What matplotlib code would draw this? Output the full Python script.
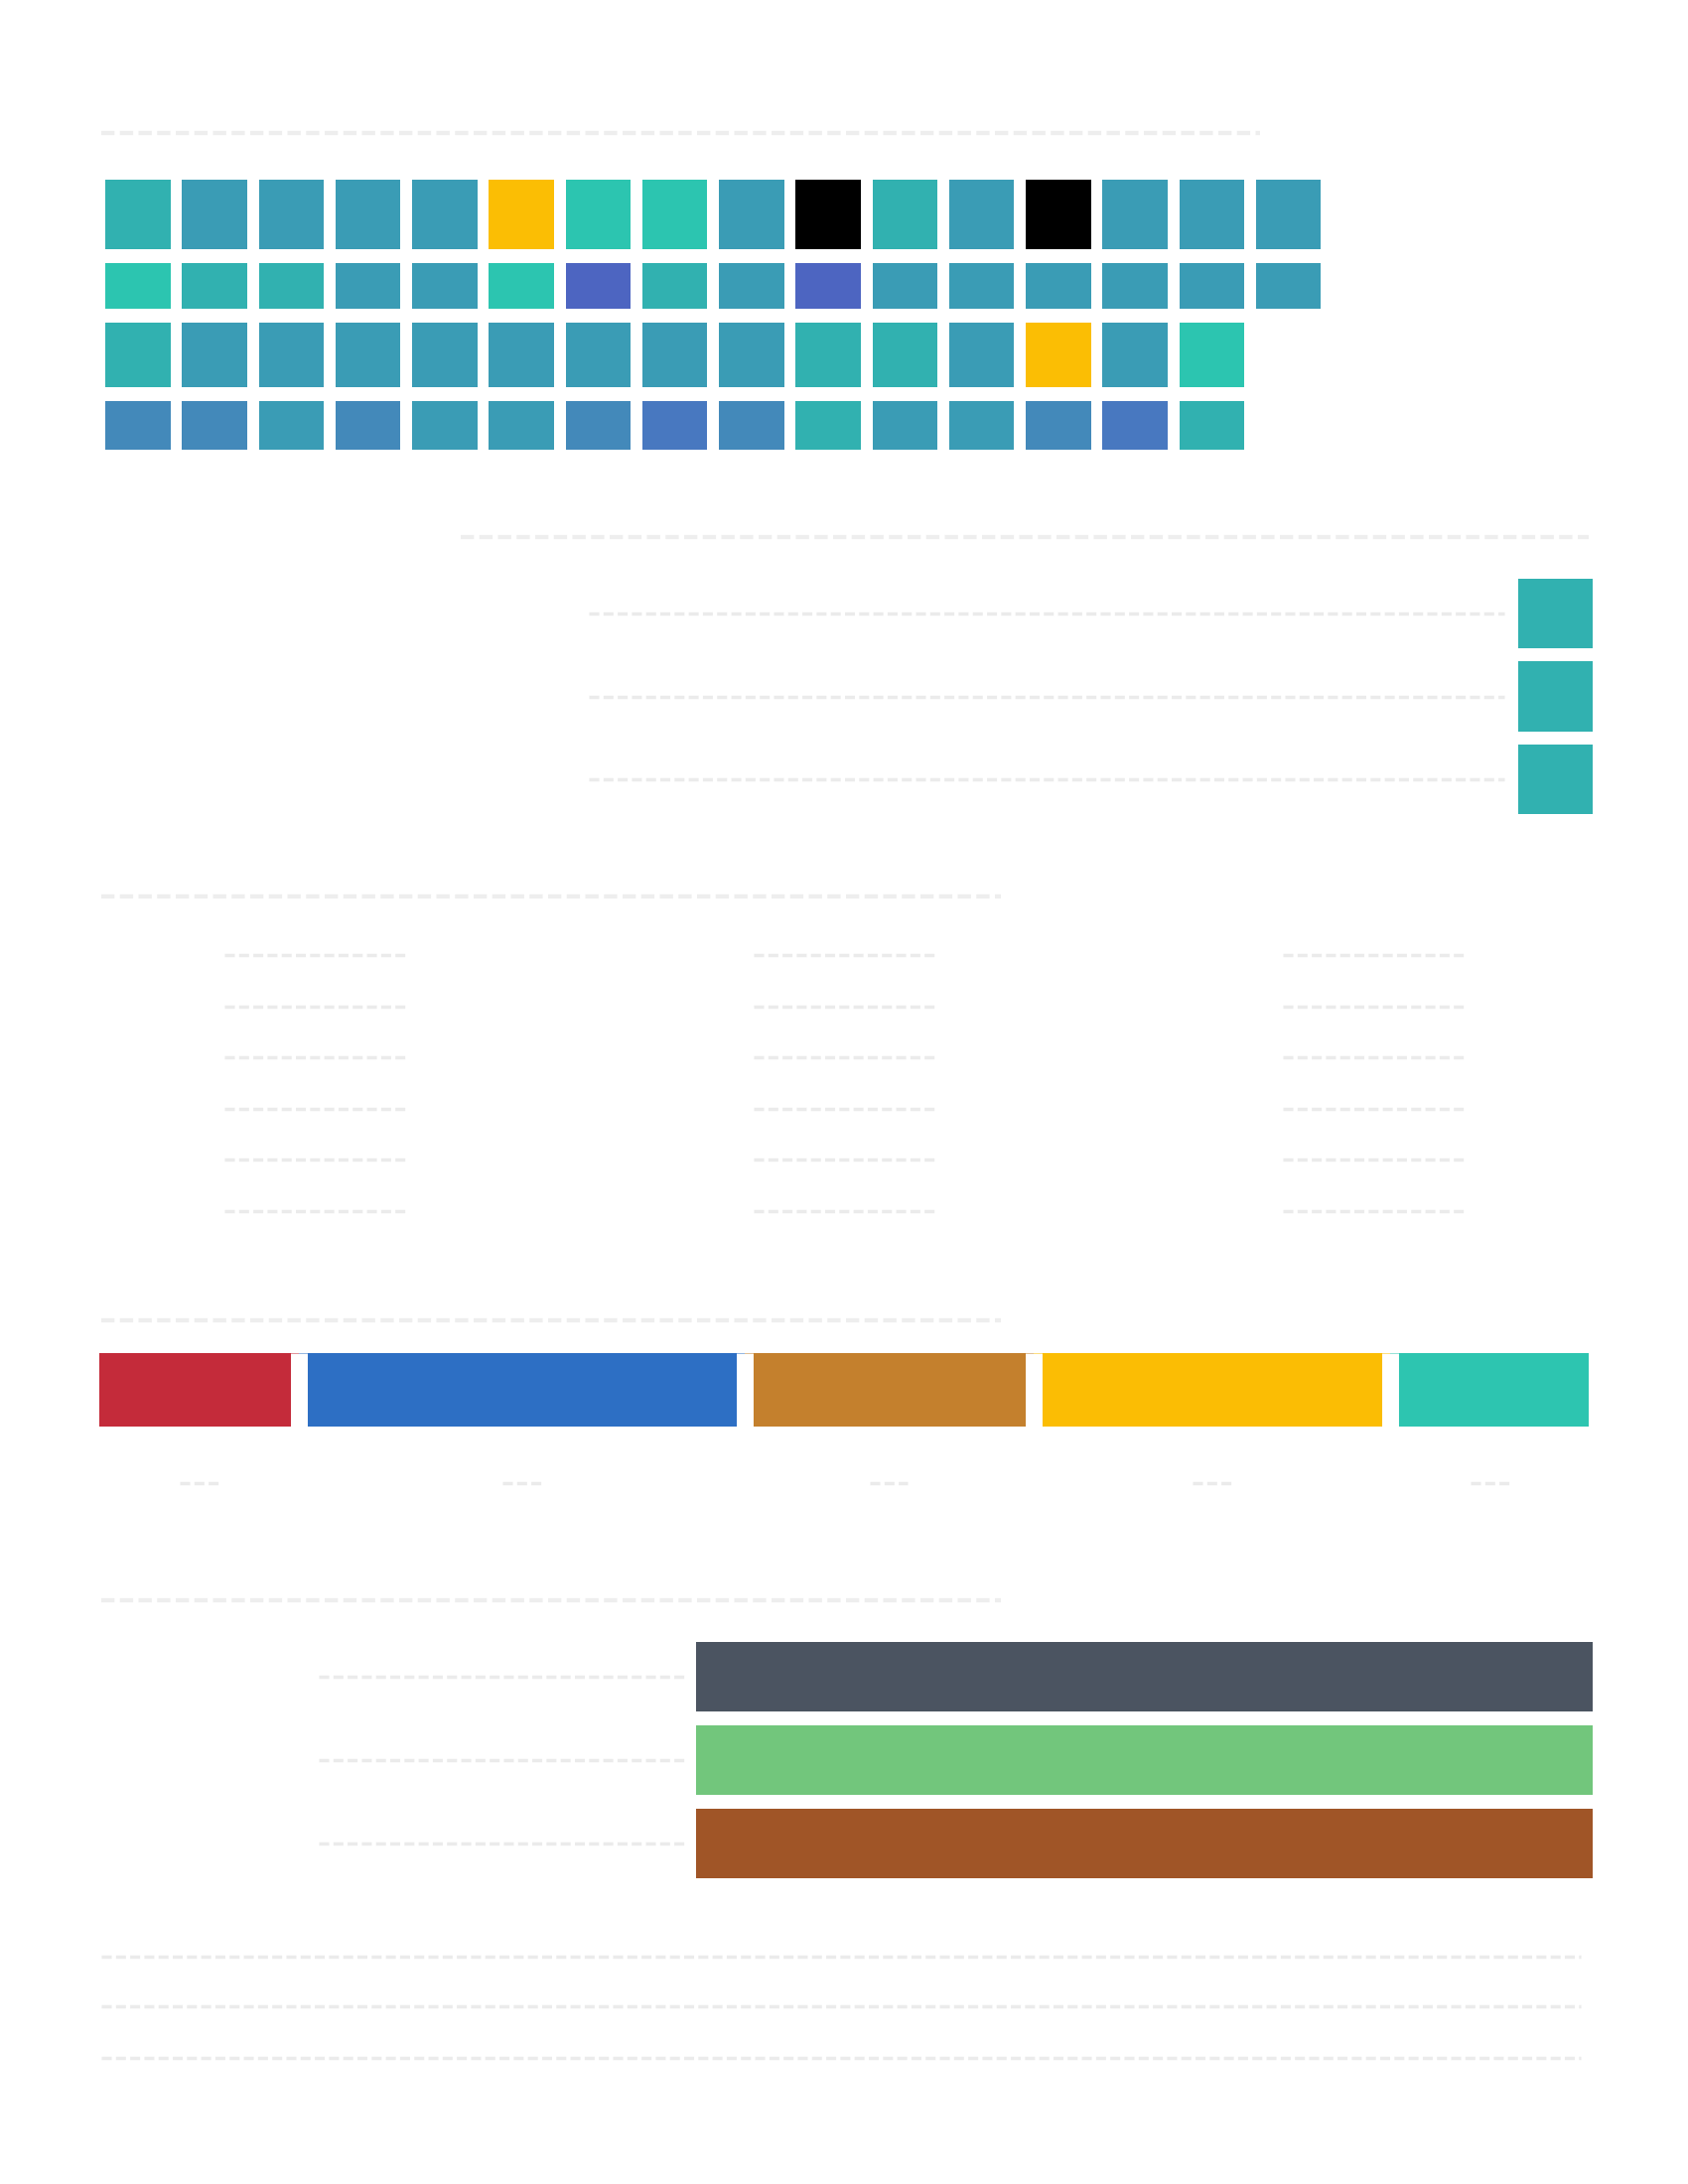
import numpy as np
import matplotlib.pyplot as plt
from matplotlib.transforms import blended_transform_factory

plt.rcParams['lines.scale_dashes'] = False

W, H = 1700, 2200

# ---------------- DATA ---------------- #

# waffle cells, one code per cell
waffle_rows = [
    "T B B B B Y M M B K T B K B B B".split(),
    "M T T B B M I T B I B B B B B B".split(),
    "T B B B B B B B B T T B Y B M".split(),
    "S S B S B B S L S T B B S L T".split(),
]
waffle_palette = {
    "T": "#31b1b0",
    "B": "#3a9cb5",
    "M": "#2cc5b0",
    "Y": "#fbbe04",
    "K": "#000000",
    "I": "#4d65c1",
    "S": "#4389ba",
    "L": "#4878c0",
}

rank_categories = ["A", "B", "C"]
rank_values = [100, 100, 100]

share_values = [13.4, 29.9, 19.4, 24.0, 13.3]
share_colors = ["#c42b3a", "#2d6fc4", "#c4802d", "#fbbd04", "#2dc5b0"]

group_categories = ["A", "B", "C"]
group_values = [100, 100, 100]
group_colors = ["#4b5461", "#72c67c", "#a05527"]

# ---------------- LAYOUT HELPERS ---------------- #

TITLE = dict(color="#eeeeee", lw=3.1, ls=(0, (9.6, 3.9)))
LABEL = dict(color="#ebebeb", lw=2.5, ls=(0, (7.2, 3.1)))


def px_axes(fig, x0, y0, x1, y1):
    ax = fig.add_axes([x0 / W, 1 - y1 / H, (x1 - x0) / W, (y1 - y0) / H])
    ax.set_axis_off()
    return ax


def dash(ax, x0, x1, y0, y1, style, transform=None):
    kw = dict(color=style["color"], lw=style["lw"], linestyle=style["ls"],
              dash_capstyle="butt", solid_capstyle="butt", clip_on=False)
    if transform is not None:
        kw["transform"] = transform
    ax.plot([x0, x1], [y0, y1], **kw)


fig = plt.figure(figsize=(W / 100, H / 100), dpi=100)

# page-level placeholders (titles, legend grid, footnotes) in pixel space
bg = fig.add_axes([0, 0, 1, 1])
bg.set_xlim(0, W)
bg.set_ylim(H, 0)
bg.set_axis_off()

for x0, x1, y in [(102, 1269, 133.5), (464, 1600, 541),
                  (102, 1008, 903), (102, 1008, 1330), (102, 1008, 1612)]:
    dash(bg, x0, x1, y, y, TITLE)

for gx in [226, 759, 1292]:
    for r in range(6):
        y = 962 + r * 51.6
        dash(bg, gx, gx + 182, y, y, LABEL)

for y in [1971, 2021, 2073]:
    dash(bg, 102, 1592, y, y, LABEL)

# ---------------- WAFFLE ---------------- #

row_heights = [70, 46, 65, 49]
row_gap = 14
pitch = 77.25
ax1 = px_axes(fig, 106 - 0.075 * pitch, 181, 106 - 0.075 * pitch + 16 * pitch, 453)
top = 0
for row, h in zip(waffle_rows, row_heights):
    cols = np.arange(len(row))
    ax1.bar(cols, h, bottom=top, width=0.85,
            color=[waffle_palette[c] for c in row], linewidth=0)
    top += h + row_gap
ax1.set_xlim(-0.5, 15.5)
ax1.set_ylim(top - row_gap, 0)

# ---------------- SMALL RANK BARS ---------------- #

ax2 = px_axes(fig, 1529, 583, 1604, 820)
pos2 = np.arange(len(rank_categories))
ax2.barh(pos2, rank_values, height=0.84, color="#31b1b0", linewidth=0)
ax2.set_xlim(0, max(rank_values))
ax2.set_ylim(len(pos2) - 1 + 0.42, -0.42)
tr2 = blended_transform_factory(fig.transFigure, ax2.transData)
for p in pos2:
    dash(ax2, 593 / W, 1515 / W, p, p, LABEL, transform=tr2)

# ---------------- STACKED SHARE BAR ---------------- #

ax4 = px_axes(fig, 100, 1363, 1600, 1437)
lefts = np.concatenate([[0], np.cumsum(share_values)[:-1]])
ax4.barh(0, share_values, left=lefts, height=1.0, color=share_colors,
         linewidth=0)
ax4.vlines(lefts[1:], -0.5, 0.5, color="white", lw=12.2)
ax4.set_xlim(0, sum(share_values))
ax4.set_ylim(-0.5, 0.5)
unit_px = (1600 - 100) / sum(share_values)
tr4 = blended_transform_factory(ax4.transData, fig.transFigure)
for left, v in zip(lefts, share_values):
    c = left + v / 2
    half = 19.3 / unit_px
    dash(ax4, c - half, c + half, 1 - 1494 / H, 1 - 1494 / H, LABEL,
         transform=tr4)

# ---------------- GROUP BARS ---------------- #

ax5 = px_axes(fig, 701, 1654, 1604, 1892)
pos5 = np.arange(len(group_categories))
ax5.barh(pos5, group_values, height=0.833, color=group_colors, linewidth=0)
ax5.set_xlim(0, max(group_values))
ax5.set_ylim(len(pos5) - 1 + 0.4167, -0.4167)
tr5 = blended_transform_factory(fig.transFigure, ax5.transData)
for p in pos5:
    dash(ax5, 321 / W, 689 / W, p, p, LABEL, transform=tr5)

fig.savefig("out.png", dpi=100, facecolor="white")
